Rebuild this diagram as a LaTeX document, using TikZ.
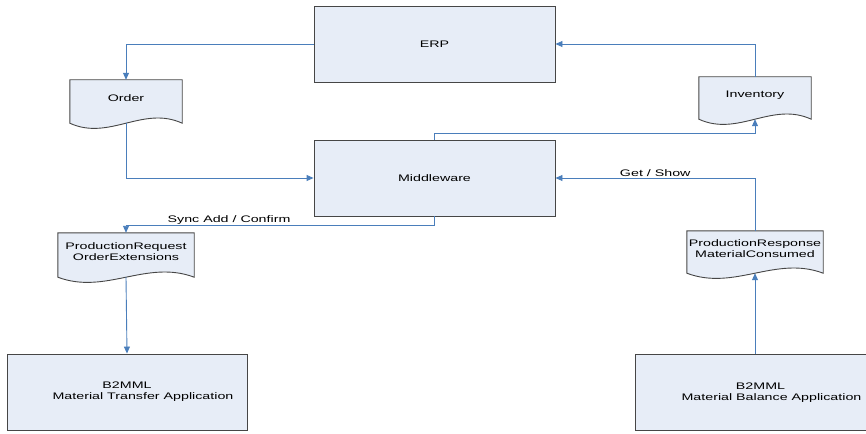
\documentclass[tikz,border=0pt]{standalone}
\usepackage{fontspec}
\setmainfont{Liberation Sans}
\newfontfamily\diagfont[FakeStretch=1.5]{Liberation Sans}
\usetikzlibrary{arrows.meta,calc}
\definecolor{boxfill}{RGB}{231,237,247}
\definecolor{boxline}{RGB}{70,70,70}
\definecolor{conn}{RGB}{74,126,187}
\tikzset{
  txt/.style={font=\diagfont\fontsize{9.5}{11}\selectfont, text=black},
  bigbox/.style={txt, draw=boxline, fill=boxfill, line width=0.9pt, minimum width=241pt, minimum height=76pt, inner sep=0pt, align=center},
  docnode/.style={txt, inner sep=0pt, align=center},
  docline/.style={draw=boxline, fill=boxfill, line width=0.9pt},
  arr/.style={draw=conn, line width=0.9pt, -{Triangle[length=7pt,width=6pt]}},
  lbl/.style={txt, inner sep=1pt}
}
\newcommand{\docoutline}[1]{%
  \path[docline] (#1.north west) -- (#1.north east) -- (#1.south east)
    .. controls ($(#1.south east)!0.35!(#1.south west)+(0,-18)$) and ($(#1.south east)!0.65!(#1.south west)+(0,18)$) .. (#1.south west) -- cycle;}
\begin{document}
\begin{tikzpicture}[x=1pt,y=-1pt]
\useasboundingbox (0,0) rectangle (866,433);
% big boxes
\node[bigbox] (erp) at (434.5,44) {ERP};
\node[bigbox] (mw) at (434.5,178) {Middleware};
\node[bigbox, minimum width=240pt] (mta) at (127,392) {B2MML\\\hspace*{32pt}Material Transfer Application};
\node[bigbox, minimum width=231pt] (mba) at (750.5,392.5) {\hspace*{20pt}B2MML\\\hspace*{42pt}Material Balance Application};
% document shapes (bounding rectangles)
\path (126,101.5) node[docnode, minimum width=112pt, minimum height=43pt] (order) {};
\path (755,98) node[docnode, minimum width=112pt, minimum height=42pt] (inv) {};
\path (126,255) node[docnode, minimum width=136pt, minimum height=44pt] (pr) {};
\path (755,252) node[docnode, minimum width=136pt, minimum height=42pt] (prr) {};
\docoutline{order}
\docoutline{inv}
\docoutline{pr}
\docoutline{prr}
\node[txt] at ($(order.center)+(0,-3)$) {Order};
\node[txt] at ($(inv.center)+(0,-3)$) {Inventory};
\node[txt, align=center] at ($(pr.center)+(0,-3.5)$) {ProductionRequest\\OrderExtensions};
\node[txt, align=center] at ($(prr.center)+(0,-3.5)$) {ProductionResponse\\MaterialConsumed};
% connectors
\draw[arr] (erp.west) -| (order.north);
\draw[arr] (order.south) |- (mw.west);
\draw[arr] (mw.north) -- ++(0,-6) -| (inv.south);
\draw[arr] (inv.north) |- (erp.east);
\draw[arr] (mw.south) -- ++(0,9) -| node[lbl, pos=0.333, above] {Sync Add / Confirm} (pr.north);
\draw[arr] (pr.south) -- (mta.north);
\draw[arr] (mba.north -| prr.south) -- (prr.south);
\draw[arr] (prr.north) |- node[lbl, pos=0.75, above] {Get / Show} (mw.east);
\end{tikzpicture}
\end{document}
